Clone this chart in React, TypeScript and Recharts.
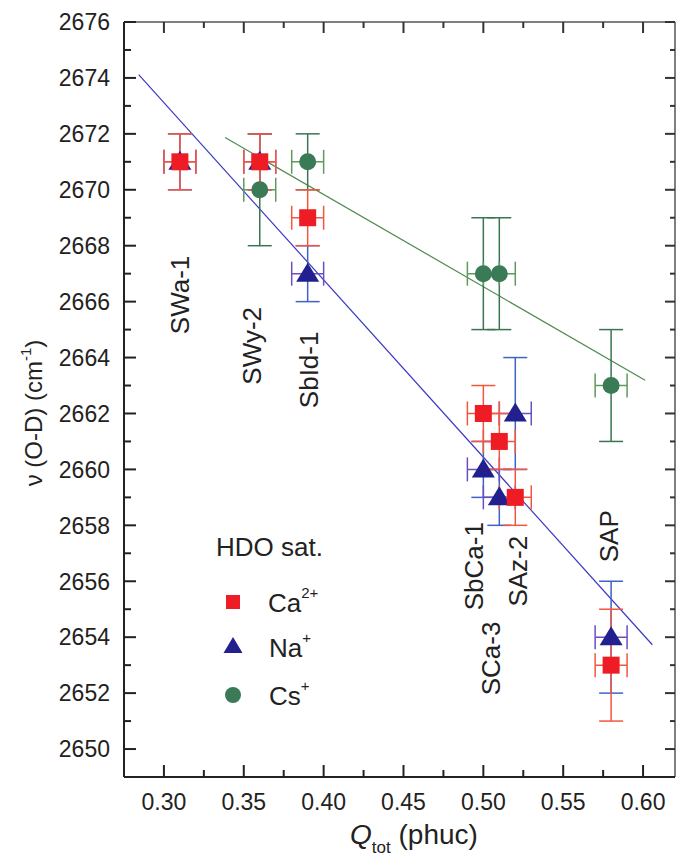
import React from 'react';
import { ComposedChart, XAxis, YAxis, Scatter, Line, ErrorBar, ReferenceLine, Legend } from 'recharts';

// Ca2+ saturated samples
const caData = [
  { q: 0.31, v: 2671, ex: 0.01, ey: 1 },
  { q: 0.36, v: 2671, ex: 0.01, ey: 1 },
  { q: 0.39, v: 2669, ex: 0.01, ey: 1 },
  { q: 0.5, v: 2662, ex: 0.01, ey: 1 },
  { q: 0.51, v: 2661, ex: 0.01, ey: 1 },
  { q: 0.52, v: 2659, ex: 0.01, ey: 1 },
  { q: 0.58, v: 2653, ex: 0.01, ey: 2 },
];
// Na+ saturated samples
const naData = [
  { q: 0.31, v: 2671, ex: 0.01, ey: 1 },
  { q: 0.36, v: 2671, ex: 0.01, ey: 1 },
  { q: 0.39, v: 2667, ex: 0.01, ey: 1 },
  { q: 0.5, v: 2660, ex: 0.01, ey: 1 },
  { q: 0.51, v: 2659, ex: 0.01, ey: 1 },
  { q: 0.52, v: 2662, ex: 0.01, ey: 2 },
  { q: 0.58, v: 2654, ex: 0.01, ey: 2 },
];
// Cs+ saturated samples
const csData = [
  { q: 0.36, v: 2670, ex: 0.01, ey: 2 },
  { q: 0.39, v: 2671, ex: 0.01, ey: 1 },
  { q: 0.5, v: 2667, ex: 0.01, ey: 2 },
  { q: 0.51, v: 2667, ex: 0.01, ey: 2 },
  { q: 0.58, v: 2663, ex: 0.01, ey: 2 },
];
// linear fits
const fitCaNa = [
  { q: 0.2842, v: 2674.12 },
  { q: 0.6058, v: 2653.73 },
];
const fitCs = [
  { q: 0.3383, v: 2671.87 },
  { q: 0.6013, v: 2663.19 },
];
// sample name annotations (text baseline position in data units)
const sampleLabels = [
  { name: 'SWa-1', q: 0.3157, v: 2666.24 },
  { name: 'SWy-2', q: 0.3608, v: 2664.42 },
  { name: 'SbId-1', q: 0.3965, v: 2663.56 },
  { name: 'SbCa-1', q: 0.4998, v: 2656.54 },
  { name: 'SCa-3', q: 0.5104, v: 2653.24 },
  { name: 'SAz-2', q: 0.5273, v: 2656.36 },
  { name: 'SAP', q: 0.5843, v: 2657.61 },
];

const xMajorTicks = [0.3, 0.35, 0.4, 0.45, 0.5, 0.55, 0.6];
const xMinorTicks = [0.325, 0.375, 0.425, 0.475, 0.525, 0.575];
const yMajorTicks = [2650, 2652, 2654, 2656, 2658, 2660, 2662, 2664, 2666, 2668, 2670, 2672, 2674, 2676];
const yMinorTicks = [2651, 2653, 2655, 2657, 2659, 2661, 2663, 2665, 2667, 2669, 2671, 2673, 2675];

const xTicks = [...xMajorTicks, ...xMinorTicks].sort((a, b) => a - b);
const yTicks = [...yMajorTicks, ...yMinorTicks].sort((a, b) => a - b);

const PLOT = { left: 124, top: 22, right: 675, bottom: 777 };
const FONT = "Arial, 'Liberation Sans', Helvetica, sans-serif";
const TEXT = '#222';

const C_CA = '#ee1d25';
const C_NA = '#22208e';
const C_CS = '#3b7a57';

const isXMajor = (v: number) => xMajorTicks.some((t) => Math.abs(t - v) < 1e-6);
const isYMajor = (v: number) => yMajorTicks.includes(v);

const XTick = (props: any) => {
  const { payload } = props;
  const x = payload.coordinate;
  const major = isXMajor(payload.value);
  return (
    <g>
      <line x1={x} x2={x} y1={PLOT.bottom} y2={PLOT.bottom - (major ? 12 : 7)} stroke={TEXT} strokeWidth={2} />
      <line x1={x} x2={x} y1={PLOT.top} y2={PLOT.top + (major ? 11 : 6)} stroke="#333" strokeWidth={2} />
      {major && (
        <text x={x} y={810} textAnchor="middle" fontSize={23} fontFamily={FONT} fill={TEXT}>
          {Number(payload.value).toFixed(2)}
        </text>
      )}
    </g>
  );
};

const YTick = (props: any) => {
  const { payload } = props;
  const y = payload.coordinate;
  const major = isYMajor(payload.value);
  return (
    <g>
      <line x1={PLOT.left} x2={PLOT.left + (major ? 12 : 7)} y1={y} y2={y} stroke={TEXT} strokeWidth={2} />
      <line x1={PLOT.right} x2={PLOT.right - (major ? 10 : 5)} y1={y} y2={y} stroke="#333" strokeWidth={2} />
      {major && (
        <text x={110} y={y} dy="0.36em" textAnchor="end" fontSize={23} fontFamily={FONT} fill={TEXT}>
          {payload.value}
        </text>
      )}
    </g>
  );
};

const SquareShape = (props: any) => {
  const { cx, cy } = props;
  if (cx == null || cy == null) return null;
  return <rect x={cx - 8.5} y={cy - 8.5} width={17} height={17} fill={C_CA} />;
};
const TriangleShape = (props: any) => {
  const { cx, cy } = props;
  if (cx == null || cy == null) return null;
  return <polygon points={`${cx},${cy - 11} ${cx + 11.5},${cy + 8} ${cx - 11.5},${cy + 8}`} fill={C_NA} />;
};
const CircleShape = (props: any) => {
  const { cx, cy } = props;
  if (cx == null || cy == null) return null;
  return <circle cx={cx} cy={cy} r={8.5} fill={C_CS} />;
};
const LabelShape = (props: any) => {
  const { cx, cy, payload } = props;
  if (cx == null || cy == null) return null;
  return (
    <text
      x={cx}
      y={cy}
      transform={`rotate(-90 ${cx} ${cy})`}
      textAnchor="middle"
      fontSize={26}
      fontFamily={FONT}
      fill={TEXT}
    >
      {payload?.name}
    </text>
  );
};

const YTitle = () => (
  <text
    x={42}
    y={413}
    transform="rotate(-90 42 413)"
    textAnchor="middle"
    fontSize={24}
    fontFamily={FONT}
    fill={TEXT}
  >
    ν (O-D) (cm
    <tspan fontSize={15} dy={-11}>-1</tspan>
    <tspan dy={11}>)</tspan>
  </text>
);

const XTitle = () => (
  <text x={414} y={844} textAnchor="middle" fontSize={28} fontFamily={FONT} fill={TEXT}>
    <tspan fontStyle="italic">Q</tspan>
    <tspan fontSize={17} dy={9}>tot</tspan>
    <tspan dy={-9}> (phuc)</tspan>
  </text>
);

const LegendBox = () => (
  <svg width={200} height={200} style={{ display: 'block' }}>
    <text x={16} y={36} fontSize={26} fontFamily={FONT} fill={TEXT}>HDO sat.</text>
    <rect x={26} y={75} width={14} height={14} fill={C_CA} />
    <text x={68} y={92} fontSize={26} fontFamily={FONT} fill={TEXT}>
      Ca<tspan fontSize={15} dy={-14}>2+</tspan>
    </text>
    <polygon points="33,117 42.5,133 23.5,133" fill={C_NA} />
    <text x={69} y={137} fontSize={26} fontFamily={FONT} fill={TEXT}>
      Na<tspan fontSize={15} dy={-14}>+</tspan>
    </text>
    <circle cx={33} cy={175} r={8} fill={C_CS} />
    <text x={69} y={185} fontSize={26} fontFamily={FONT} fill={TEXT}>
      Cs<tspan fontSize={15} dy={-14}>+</tspan>
    </text>
  </svg>
);

export default function App() {
  return (
    <div style={{ position: 'absolute', left: 0, top: 0, width: 676, height: 864, background: '#fff' }}>
      <ComposedChart
        width={676}
        height={864}
        margin={{ top: PLOT.top, right: 676 - PLOT.right, left: PLOT.left - 80, bottom: 864 - PLOT.bottom - 60 }}
      >
        <XAxis
          type="number"
          dataKey="q"
          domain={[0.275, 0.62]}
          allowDataOverflow
          ticks={xTicks}
          interval={0}
          tick={<XTick />}
          tickLine={false}
          axisLine={{ stroke: TEXT, strokeWidth: 2 }}
          height={60}
          label={<XTitle />}
        />
        <YAxis
          type="number"
          dataKey="v"
          domain={[2649, 2676]}
          allowDataOverflow
          ticks={yTicks}
          interval={0}
          tick={<YTick />}
          tickLine={false}
          axisLine={{ stroke: TEXT, strokeWidth: 2 }}
          width={80}
          label={<YTitle />}
        />
        <ReferenceLine y={2676} stroke="#555" strokeWidth={1.5} />
        <ReferenceLine x={0.62} stroke="#555" strokeWidth={1.5} />
        <Line data={fitCaNa} dataKey="v" stroke="#3a3ac4" strokeWidth={1.2} dot={false} activeDot={false} isAnimationActive={false} legendType="none" />
        <Line data={fitCs} dataKey="v" stroke="#4d8a4d" strokeWidth={1.2} dot={false} activeDot={false} isAnimationActive={false} legendType="none" />
        <Scatter data={csData} dataKey="v" shape={<CircleShape />} isAnimationActive={false}>
          <ErrorBar dataKey="ey" direction="y" width={12} stroke="#3a7552" strokeWidth={1.5} />
          <ErrorBar dataKey="ex" direction="x" width={12} stroke="#5f9a5c" strokeWidth={1.5} />
        </Scatter>
        <Scatter data={naData} dataKey="v" shape={<TriangleShape />} isAnimationActive={false}>
          <ErrorBar dataKey="ey" direction="y" width={12} stroke="#3d62c8" strokeWidth={1.5} />
          <ErrorBar dataKey="ex" direction="x" width={12} stroke="#6a4fc0" strokeWidth={1.5} />
        </Scatter>
        <Scatter data={caData} dataKey="v" shape={<SquareShape />} isAnimationActive={false}>
          <ErrorBar dataKey="ey" direction="y" width={12} stroke="#f3563f" strokeWidth={1.5} />
          <ErrorBar dataKey="ex" direction="x" width={12} stroke="#f3563f" strokeWidth={1.5} />
        </Scatter>
        <Scatter data={sampleLabels} dataKey="v" shape={<LabelShape />} isAnimationActive={false} legendType="none" />
        <Legend
          layout="vertical"
          align="center"
          verticalAlign="middle"
          content={<LegendBox />}
          wrapperStyle={{ left: 200, top: 520, width: 200, height: 200 }}
        />
      </ComposedChart>
    </div>
  );
}
